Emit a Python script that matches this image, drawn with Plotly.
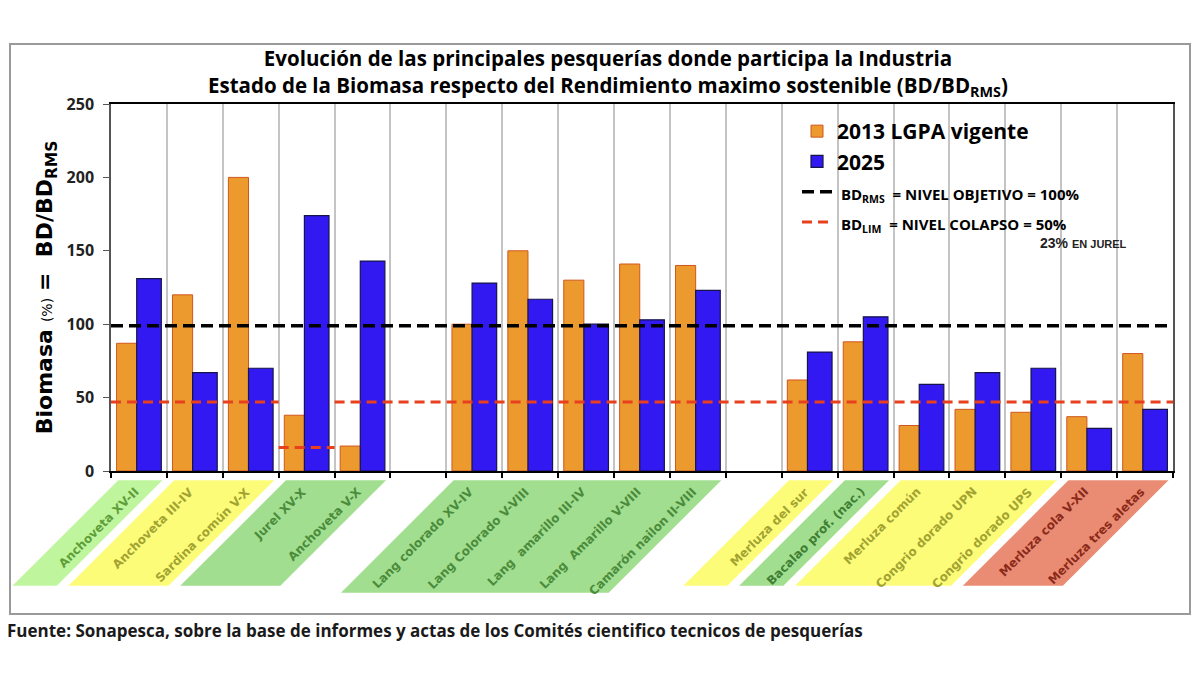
import plotly.graph_objects as go

# ---------------- data ----------------
categories = [
    "Anchoveta XV-II", "Anchoveta III-IV", "Sardina común V-X", "Jurel XV-X", "Anchoveta V-X", "",
    "Lang colorado XV-IV", "Lang Colorado V-VIII", "Lang  amarillo III-IV", "Lang  Amarillo V-VIII",
    "Camarón nailon II-VIII", "",
    "Merluza del sur", "Bacalao prof. (nac.)", "Merluza común", "Congrio dorado UPN",
    "Congrio dorado UPS", "Merluza cola V-XII", "Merluza tres aletas",
]
biomasa_2013 = [87, 120, 200, 38, 17, None, 100, 150, 130, 141, 140, None, 62, 88, 31, 42, 40, 37, 80]
biomasa_2025 = [131, 67, 70, 174, 143, None, 128, 117, 100, 103, 123, None, 81, 105, 59, 67, 70, 29, 42]
bd_rms_level = 99
# collapse level per slot (drawn lower for Jurel)
bd_lim = [47, 47, 47, 16, 47, 47, 47, 47, 47, 47, 47, 47, 47, 47, 47, 47, 47, 47, 47]
y_ticks = [0, 50, 100, 150, 200, 250]

# label groups: (first slot, last slot, fill colour, text colour)
label_groups = [
    (0, 0, "#bff59c", "#5f9f3a"),
    (1, 2, "#fcfc78", "#a3a332"),
    (3, 4, "#a2de8f", "#4b8c3c"),
    (6, 10, "#a2de8f", "#4b8c3c"),
    (12, 12, "#fcfc78", "#a3a332"),
    (13, 13, "#a2de8f", "#3f7f34"),
    (14, 16, "#fcfc78", "#a3a332"),
    (17, 18, "#ea8c73", "#8a2a1a"),
]

n = len(categories)
x_pos = list(range(n))

# page-pixel -> paper helpers (plot area spans x 111..1173, y 104..471 on the page)
def px(X):
    return (X - 111) / 1062

def py(Y):
    return (471 - Y) / 367

fig = go.Figure()

fig.add_trace(go.Bar(
    x=x_pos, y=biomasa_2013, name="2013 LGPA vigente",
    offset=-0.40, width=0.36,
    marker=dict(color="#ec9a2e", line=dict(color="#d0561e", width=1)),
))
fig.add_trace(go.Bar(
    x=x_pos, y=biomasa_2025, name="2025",
    offset=-0.04, width=0.44,
    marker=dict(color="#3219f2", line=dict(color="#15154a", width=1.2)),
))

# BD_RMS line
fig.add_trace(go.Scatter(
    x=[-0.5, n - 0.5], y=[bd_rms_level, bd_rms_level], mode="lines",
    name="<span style='font-size:15px'><b> BD<sub>RMS</sub>  = NIVEL OBJETIVO = 100%</b></span>",
    line=dict(color="black", width=3.5, dash="12px,6px"),
))

# BD_LIM line (step segments, broken where level changes)
lx, ly = [], []
i = 0
while i < n:
    j = i
    while j + 1 < n and bd_lim[j + 1] == bd_lim[i]:
        j += 1
    if lx:
        lx.append(None); ly.append(None)
    lx += [i - 0.5, j + 0.5]
    ly += [bd_lim[i], bd_lim[i]]
    i = j + 1
fig.add_trace(go.Scatter(
    x=lx, y=ly, mode="lines",
    name="<span style='font-size:15px'><b> BD<sub>LIM</sub>  = NIVEL COLAPSO = 50%</b></span>",
    line=dict(color="#e8401c", width=3, dash="10px,6px"),
))

# ---------------- label parallelograms ----------------
shapes = []
annotations = []
top_y = -0.025
slot_px = 1062 / n
for (a, b, fill, tcol) in label_groups:
    bottom_y = -0.332 if (b - a) >= 4 else -0.313
    slant = (top_y - bottom_y) * 367 / slot_px
    tl = a - 0.5 + 0.13
    tr = b + 0.5 - 0.08
    bl = tl - slant
    br = tr - slant
    to_p = lambda v: (v + 0.5) / n
    path = (f"M {to_p(tl)},{top_y} L {to_p(tr)},{top_y} "
            f"L {to_p(br)},{bottom_y} L {to_p(bl)},{bottom_y} Z")
    shapes.append(dict(type="path", path=path, xref="paper", yref="paper",
                       fillcolor=fill, line=dict(width=0), layer="below"))
    for k in range(a, b + 1):
        annotations.append(dict(
            x=k, y=-0.03, xref="x", yref="paper", text=categories[k],
            textangle=-45, xanchor="right", yanchor="top", xshift=5,
            showarrow=False,
            font=dict(family="DejaVu Sans", size=12, color=tcol, weight="bold"),
        ))

# outer frame
shapes.append(dict(type="rect", xref="paper", yref="paper",
                   x0=px(10), x1=px(1190), y0=py(614), y1=py(44),
                   line=dict(color="#9a9a9a", width=2), fillcolor="rgba(0,0,0,0)", layer="below"))

# title (two lines in one text block)
annotations.append(dict(
    x=px(608), y=py(72), xref="paper", yref="paper", showarrow=False,
    xanchor="center", yanchor="middle", align="center",
    text="Evolución de las principales pesquerías donde participa la Industria<br>"
         "Estado de la Biomasa respecto del Rendimiento maximo sostenible (BD/BD<sub>RMS</sub>)",
    font=dict(family="Open Sans", size=20.5, color="black", weight="bold"),
))

annotations.append(dict(
    x=px(1038), y=py(243), xref="paper", yref="paper",
    text="<b>23%</b> <span style='font-size:11px'><b>EN JUREL</b></span>",
    showarrow=False, xanchor="left", yanchor="middle",
    font=dict(family="Liberation Sans", size=14, color="#222"),
))
annotations.append(dict(
    x=px(5), y=py(630), xref="paper", yref="paper",
    text="<b>Fuente: Sonapesca, sobre la base de informes y actas de los Comités cientifico tecnicos de pesquerías</b>",
    showarrow=False, xanchor="left", yanchor="middle",
    font=dict(family="Open Sans", size=17, color="#1a1a1a"),
))

fig.update_layout(
    width=1200, height=675,
    # the page body adds an 8px offset; margins compensate so the plot sits at 111..1173 / 104..471
    margin=dict(l=103, r=35, t=96, b=212),
    paper_bgcolor="white", plot_bgcolor="white",
    barmode="overlay",
    legend=dict(
        x=px(797), y=py(111), xanchor="left", yanchor="top",
        bgcolor="rgba(0,0,0,0)",
        font=dict(family="Open Sans", size=21, color="black", weight="bold"),
        tracegroupgap=0, itemwidth=30,
    ),
    showlegend=True,
    shapes=shapes,
    annotations=annotations,
    xaxis=dict(
        range=[-0.5, n - 0.5],
        tickvals=[k - 0.5 for k in range(n + 1)], showticklabels=False,
        showgrid=True, gridcolor="#c4c4c4", gridwidth=1.5,
        showline=True, linecolor="black", linewidth=2, mirror=True,
        ticks="outside", ticklen=5, tickwidth=2, tickcolor="black",
        zeroline=False,
    ),
    yaxis=dict(
        range=[0, 250], tickvals=y_ticks,
        showgrid=False, zeroline=False,
        showline=True, linecolor="#555", linewidth=1.5, mirror=True,
        ticks="outside", ticklen=6, tickcolor="#555",
        ticklabelstandoff=6,
        tickfont=dict(family="Open Sans", size=16, color="#222", weight="bold"),
        title=dict(
            text="<b>Biomasa</b> <span style='font-size:14px'>(%)</span> <b>=  BD/BD<sub>RMS</sub></b>",
            font=dict(family="DejaVu Sans", size=22, color="black"),
            standoff=8,
        ),
    ),
)

fig.write_html("out.html")
